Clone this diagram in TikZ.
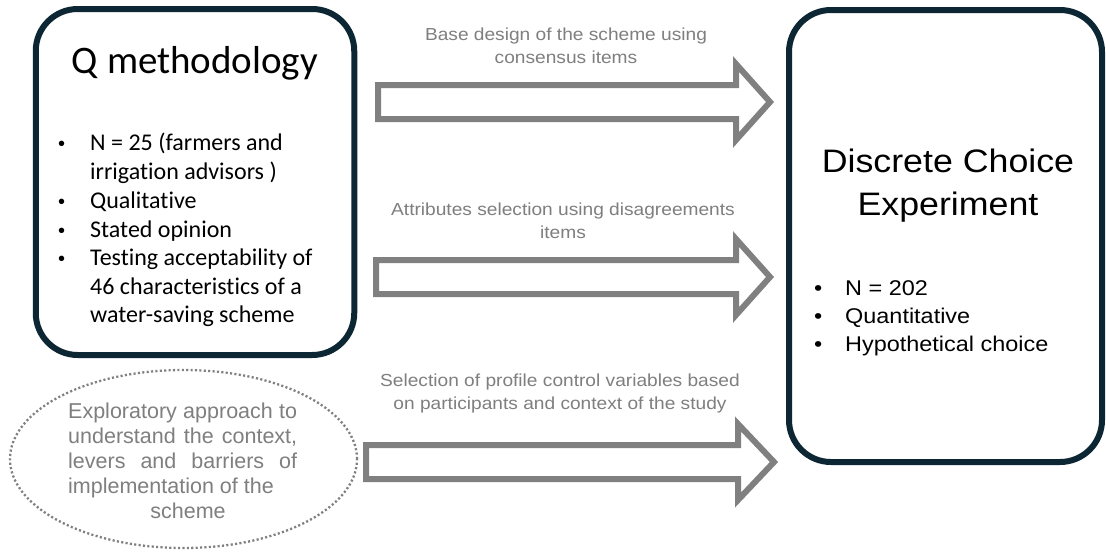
\documentclass[tikz,border=0pt]{standalone}
\usepackage{fontspec}
\usetikzlibrary{shapes.geometric}
\newfontfamily\calfont[Ligatures=NoCommon]{Carlito}
\newfontfamily\aptfont[FakeStretch=1.1]{Liberation Sans}
\newfontfamily\arifont{Liberation Sans}
\definecolor{navy}{HTML}{0C2733}
\definecolor{greyline}{HTML}{808080}
\definecolor{greytext}{HTML}{7F7F7F}
\begin{document}
\begin{tikzpicture}[x=1pt,y=-1pt,
  mainbox/.style={draw=navy, line width=6pt, rounded corners=42pt, fill=white, inner sep=0pt},
  qtxt/.style={font=\calfont\fontsize{24}{28}\selectfont, inner sep=0pt, anchor=base west, text=black},
  qbul/.style={font=\arifont\fontsize{20}{24}\selectfont, inner sep=0pt, anchor=base west, text=black},
  qtitle/.style={font=\calfont\fontsize{39}{44}\selectfont, inner sep=0pt, anchor=base, text=black},
  dtitle/.style={font=\aptfont\fontsize{32.5}{40}\selectfont, inner sep=0pt, anchor=base, text=black},
  dtxt/.style={font=\aptfont\fontsize{21.3}{26}\selectfont, inner sep=0pt, anchor=base west, text=black},
  lbl/.style={font=\aptfont\fontsize{17.4}{22}\selectfont, inner sep=0pt, anchor=base, text=greytext},
  etxt/.style={font=\arifont\fontsize{21.5}{25}\selectfont, inner sep=0pt, anchor=base west, text=greytext},
  blockarrow/.style={draw=greyline, line width=6pt, fill=white, line join=miter, miter limit=10}
]
\useasboundingbox (0,0) rectangle (1106,552);
\fill[white] (0,0) rectangle (1106,552);

% boxes
\node[mainbox, minimum width=318.5pt, minimum height=346pt] (qbox) at (195,182) {};
\node[mainbox, minimum width=313pt, minimum height=452pt] (dbox) at (945.5,236) {};
\node[draw=greyline, line width=2.3pt, dash pattern=on 2.1pt off 2.3pt, ellipse, minimum width=347pt, minimum height=178pt, inner sep=0pt] (expl) at (183.5,459) {};

% Q methodology text
\node[qtitle] (qt) at (195,73) {Q methodology};
\node[qbul] (qb1) at (58,150) {•};
\node[qtxt] (ql1) at (90,150) {N = 25 (farmers and};
\node[qtxt] (ql2) at (90,179) {irrigation advisors )};
\node[qbul] (qb3) at (58,208) {•};
\node[qtxt] (ql3) at (90,208) {Qualitative};
\node[qbul] (qb4) at (58,237) {•};
\node[qtxt] (ql4) at (90,237) {Stated opinion};
\node[qbul] (qb5) at (58,265) {•};
\node[qtxt] (ql5) at (90,265) {Testing acceptability of};
\node[qtxt] (ql6) at (90,294) {46 characteristics of a};
\node[qtxt] (ql7) at (90,322) {water-saving scheme};

% DCE text
\node[dtitle] (dt1) at (948,172) {Discrete Choice};
\node[dtitle] (dt2) at (948,215) {Experiment};
\node[dtxt] (db1) at (814,295) {•};
\node[dtxt] (dl1) at (845,295) {N = 202};
\node[dtxt] (db2) at (814,323) {•};
\node[dtxt] (dl2) at (845,323) {Quantitative};
\node[dtxt] (db3) at (814,351) {•};
\node[dtxt] (dl3) at (845,351) {Hypothetical choice};

% ellipse text
\node[etxt] (e1) at (68,418) {\makebox[229pt][s]{Exploratory approach to}};
\node[etxt] (e2) at (68,443) {\makebox[229pt][s]{understand the context,}};
\node[etxt] (e3) at (68,468) {\makebox[229pt][s]{levers and barriers of}};
\node[etxt] (e4) at (68,493) {implementation of the};
\node[etxt, anchor=base] (e5) at (188,518) {scheme};

% arrows
\draw[blockarrow] (378,85) -- (736,85) -- (736,64) -- (770,102) -- (736,140) -- (736,119) -- (378,119) -- cycle;
\draw[blockarrow] (376,260) -- (736,260) -- (736,239) -- (770,277) -- (736,315) -- (736,294) -- (376,294) -- cycle;
\draw[blockarrow] (366,445) -- (738,445) -- (738,424) -- (774,462) -- (738,500) -- (738,479) -- (366,479) -- cycle;

% arrow labels
\node[lbl] (a1) at (566,40) {Base design of the scheme using};
\node[lbl] (a1b) at (566,63) {consensus items};
\node[lbl] (a2) at (563,215) {Attributes selection using disagreements};
\node[lbl] (a2b) at (563,238) {items};
\node[lbl] (a3) at (560,386) {Selection of profile control variables based};
\node[lbl] (a3b) at (560,409) {on participants and context of the study};
\end{tikzpicture}
\end{document}
